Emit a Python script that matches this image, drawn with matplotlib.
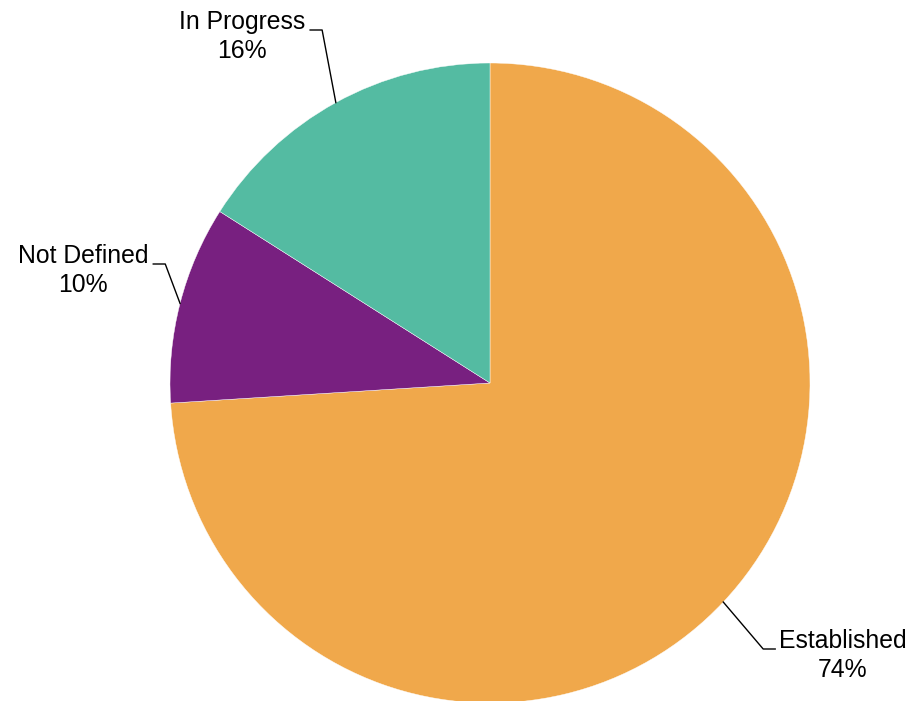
import numpy as np
import matplotlib.pyplot as plt

##- Données -##
categories = ["Established", "Not Defined", "In Progress"]
parts = [74, 10, 16]
couleurs = ["#F0A84B", "#782080", "#54BBA2"]

# positions des étiquettes (x centre, ligne de base du nom), en pixels
etiquettes_pos = [(843, 648), (83, 263), (242, 29)]
cote = ["right", "left", "left"]

W, H = 913, 701
centre = (490, 383)
rayon = 320

plt.rcParams['font.family'] = ['Liberation Sans', 'DejaVu Sans']

fig = plt.figure(figsize=(W / 100, H / 100), dpi=100)
ax = fig.add_axes([0, 0, 1, 1])

wedges, _ = ax.pie(parts, colors=couleurs, startangle=270, counterclock=True,
                   center=centre, radius=rayon,
                   wedgeprops=dict(edgecolor="white", linewidth=0.3))

# axe y inversé : coordonnées en pixels depuis le haut
ax.set_xlim(0, W)
ax.set_ylim(H, 0)
ax.set_aspect("equal")
ax.axis("off")

##- Etiquettes et traits de rappel -##
for w, nom, p, (tx, ty), c in zip(wedges, categories, parts, etiquettes_pos, cote):
    milieu = np.deg2rad((w.theta1 + w.theta2) / 2)
    x0 = centre[0] + rayon * np.cos(milieu)
    y0 = centre[1] + rayon * np.sin(milieu)
    t = ax.text(tx, ty, nom, ha="center", va="baseline", fontsize=17.85)
    ax.text(tx, ty + 29, f"{p}%", ha="center", va="baseline", fontsize=17.85)
    # largeur du texte pour placer le coude
    fig.canvas.draw()
    bb = t.get_window_extent()
    demi = bb.width / 2
    if c == "right":
        x_fin = tx - demi - 4
        x_coude = x_fin - 12
    else:
        x_fin = tx + demi + 5
        x_coude = x_fin + 12
    ax.plot([x0, x_coude, x_fin], [y0, ty + 1, ty + 1], color="black", lw=1.0)

fig.savefig("out.png", dpi=100)
